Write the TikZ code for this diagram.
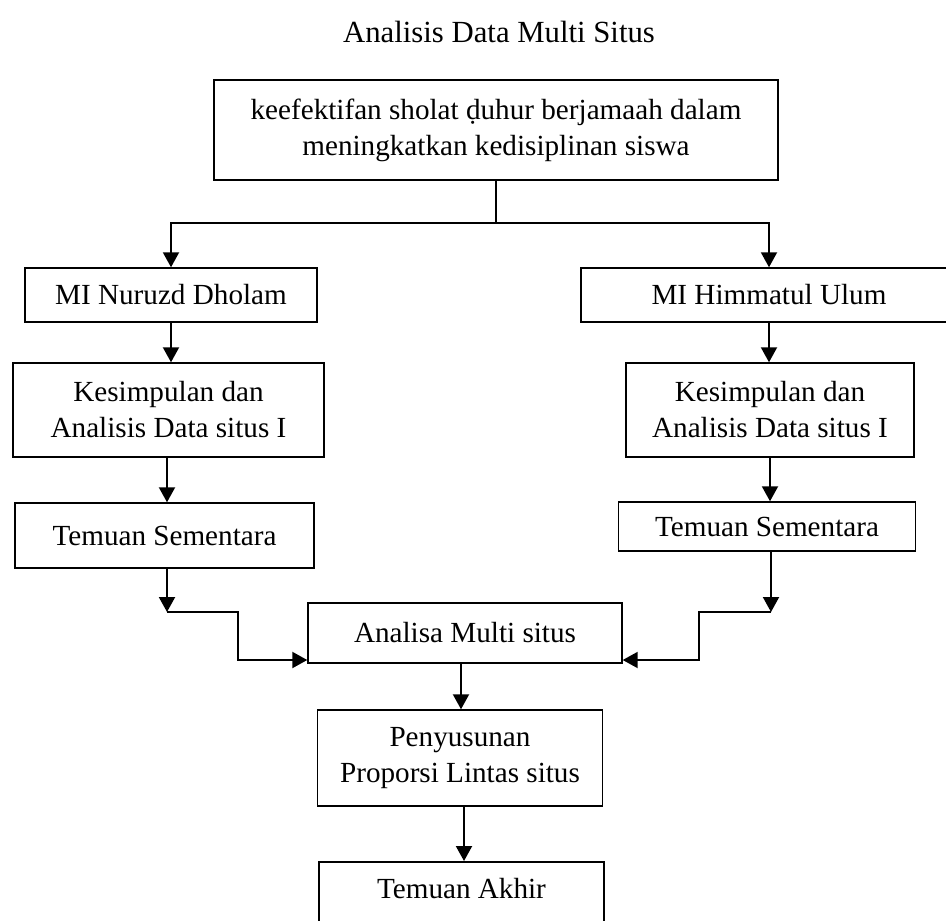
\documentclass[tikz,border=0pt]{standalone}
\usepackage{fontspec}
\setmainfont{Liberation Serif}
\usetikzlibrary{arrows.meta}

\begin{document}
\begin{tikzpicture}[
x=0.02cm,y=-0.02cm,
box/.style={draw=black,line width=0.85pt,align=center,inner sep=0pt,font=\fontsize{16.6}{20.5}\selectfont},
ttl/.style={font=\fontsize{17.5}{20}\selectfont},
link/.style={line width=1.1pt},
arr/.style={line width=1.15pt,-{Triangle[length=0.3cm,width=0.32cm]}}
]
\useasboundingbox (0,0) rectangle (946,920);
\node[ttl] (title) at (499,32) {Analisis Data Multi Situs};
\node[box,minimum width=11.28cm,minimum height=2cm] (top) at (496,130) {keefektifan sholat ḍuhur berjamaah dalam\\meningkatkan kedisiplinan siswa};
% dua situs
\node[box,minimum width=5.84cm,minimum height=1.08cm] (miL) at (171,295) {MI Nuruzd Dholam};
\node[box,minimum width=7.52cm,minimum height=1.08cm] (miR) at (769,295) {MI Himmatul Ulum};
\node[box,minimum width=6.22cm,minimum height=1.88cm] (kesL) at (168.5,410) {Kesimpulan dan\\Analisis Data situs I};
\node[box,minimum width=5.76cm,minimum height=1.88cm] (kesR) at (770,410) {Kesimpulan dan\\Analisis Data situs I};
\node[box,minimum width=5.98cm,minimum height=1.3cm] (temL) at (164.5,535.5) {Temuan Sementara};
\node[box,minimum width=5.94cm,minimum height=0.98cm] (temR) at (767,526.5) {Temuan Sementara};
% lintas situs
\node[box,minimum width=6.28cm,minimum height=1.2cm] (multi) at (465,633) {Analisa Multi situs};
\node[box,minimum width=5.7cm,minimum height=1.92cm] (susun) at (460,758) {Penyusunan\\Proporsi Lintas situs};
\node[box,minimum width=5.7cm,anchor=north,text height=0.73cm,text depth=0.69cm] (akhir) at (461.5,861) {Temuan Akhir};

\coordinate (split) at (496,223);
\coordinate (endL) at (167,612);
\coordinate (bendL) at (238,612);
\coordinate (endR) at (771,612);
\coordinate (bendR) at (699,612);

\draw[line width=0.7pt] (top.south) -- (split);
\draw[arr] (split) -| (miL.north);
\draw[arr] (split) -| (miR.north);
\draw[arr] (miL.south) -- (miL.south |- kesL.north);
\draw[arr] (miR.south) -- (miR.south |- kesR.north);
\draw[arr] (kesL.south -| endL) -- (endL |- temL.north);
\draw[arr] (kesR.south) -- (kesR.south |- temR.north);
\draw[arr] (endL |- temL.south) -- (endL);
\draw[arr] (endR |- temR.south) -- (endR);
\draw[arr] (endL) -- (bendL) |- (multi.west |- 0,660);
\draw[arr] (endR) -- (bendR) |- (multi.east |- 0,660);
\draw[arr] (multi.south -| 461,0) -- (susun.north -| 461,0);
\draw[arr] (susun.south -| 464,0) -- (akhir.north -| 464,0);
\end{tikzpicture}
\end{document}
